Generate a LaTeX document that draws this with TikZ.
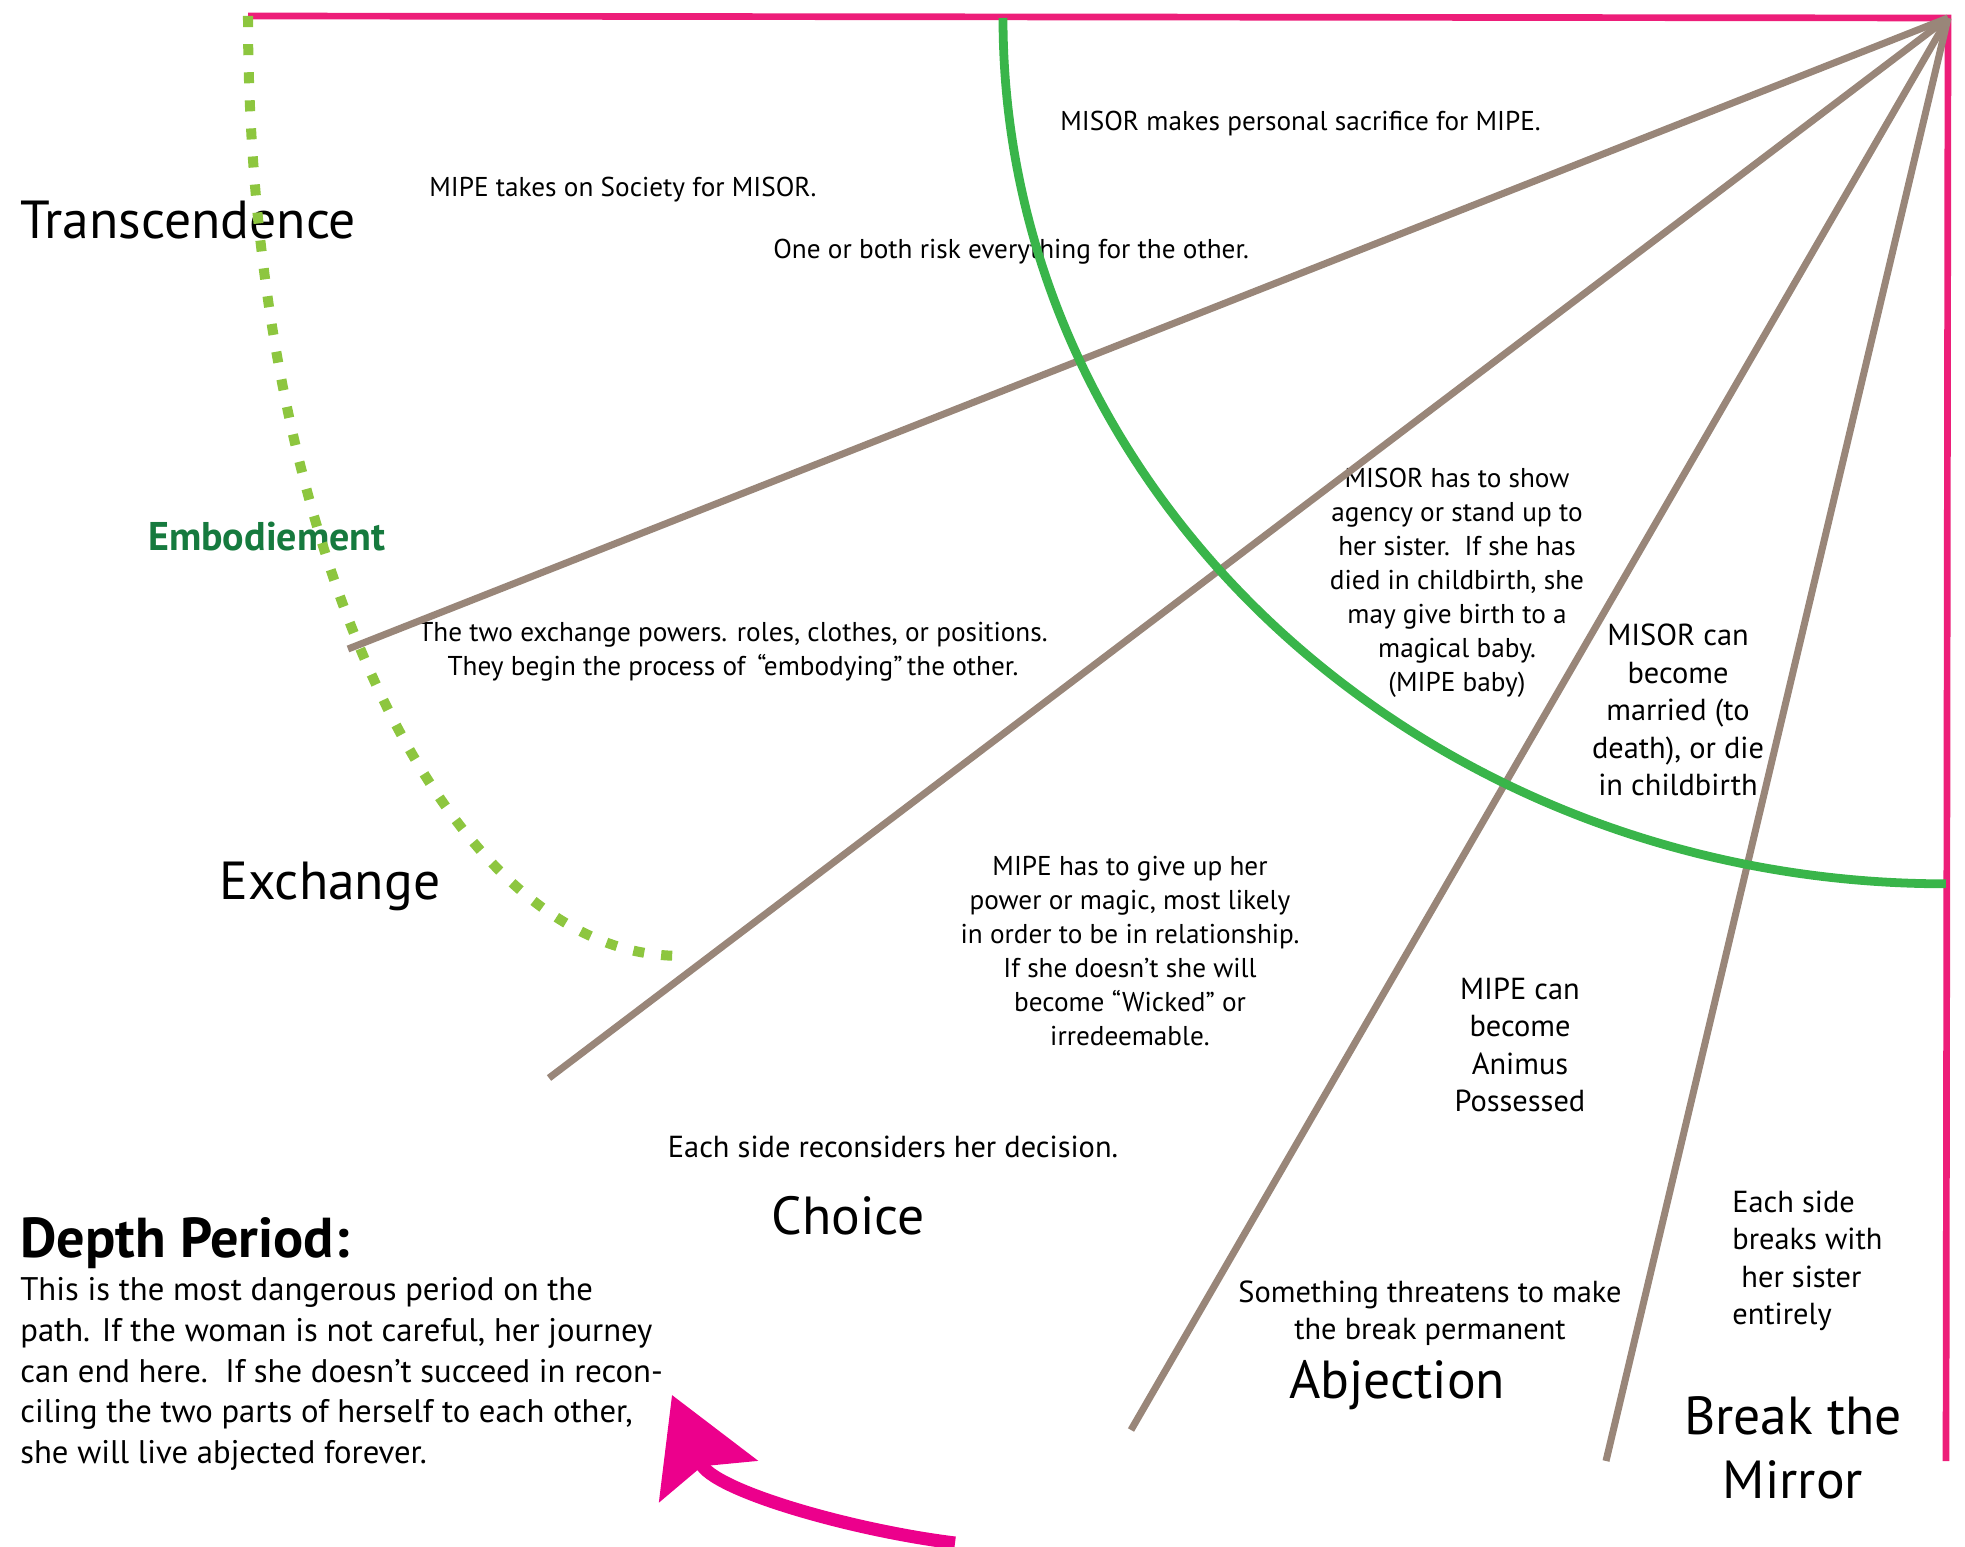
\documentclass[tikz,border=0pt]{standalone}
\usepackage{fontspec}
\setmainfont{PT Sans}
\usetikzlibrary{arrows.meta,positioning}

\definecolor{mirrorpink}{RGB}{237,30,121}
\definecolor{arrowpink}{RGB}{236,0,140}
\definecolor{spokebrown}{RGB}{153,134,121}
\definecolor{arcgreen}{RGB}{57,181,74}
\definecolor{dotgreen}{RGB}{141,198,63}
\definecolor{embgreen}{RGB}{22,122,62}

\begin{document}
\begin{tikzpicture}[x=0.02cm,y=-0.02cm,node distance=1cm,auto]
  \tikzstyle{every node}=[inner sep=0pt]
  \tikzstyle{stage}=[font=\fontsize{30.5}{36.4}\selectfont,align=center]
  \tikzstyle{note}=[font=\fontsize{15.5}{19.3}\selectfont,align=center]
  \tikzstyle{bignote}=[font=\fontsize{17.3}{21.3}\selectfont,align=center]
  \tikzstyle{spoke}=[draw=spokebrown,line width=4pt]
  \tikzstyle{mirrorline}=[draw=mirrorpink,line width=3.8pt,line join=miter]

  \useasboundingbox (0,0) rectangle (1965,1547);

  \coordinate (apex)     at (1948,18);
  \coordinate (topleft)  at (248,16);
  \coordinate (botright) at (1946,1461);
  \coordinate (e1) at (348,649);
  \coordinate (e2) at (549,1078);
  \coordinate (e3) at (1131,1430);
  \coordinate (e4) at (1606,1461);
  \coordinate (arcstart) at (1003,18);
  \coordinate (dotstart) at (248,16);
  \coordinate (tail) at (955,1543);
  \coordinate (tip)  at (672,1395);

  % texts
  \node[stage,anchor=west] (transc) at (20,220) {Transcendence};
  \node[note,anchor=west] (society)   at (429,190) {MIPE takes on Society for MISOR.};
  \node[note,anchor=west] (risk)      at (773,252) {One or both risk everything for the other.};
  \node[note,anchor=west] (sacrifice) at (1060,124) {MISOR makes personal sacrifice for MIPE.};
  \node[anchor=west,text=embgreen,font=\bfseries\fontsize{22.8}{26}\selectfont] (embod) at (148,537) {Embodiement};
  \node[note] (swap) at (733,652) {The two exchange powers. roles, clothes, or positions.\\They begin the process of \,“embodying”\,the other.};
  \node[note] (agency) at (1457,583) {MISOR has to show\\agency or stand up to\\her sister.\ \ If she has\\died in childbirth, she\\may give birth to a\\magical baby.\\(MIPE baby)};
  \node[bignote] (married) at (1678,710) {MISOR can\\become\\married (to\\death), or die\\in childbirth};
  \node[stage] (exchange) at (330,886) {Exchange};
  \node[note] (giveup) at (1130,951) {MIPE has to give up her\\power or magic, most likely\\in order to be in relationship.\\If she doesn’t she will\\become “Wicked” or\\irredeemable.};
  \node[bignote] (animus) at (1520,1045) {MIPE can\\become\\Animus\\Possessed};
  \node[bignote] (reconsider) at (893,1147) {Each side reconsiders her decision.};
  \node[stage] (choice) at (848,1216) {Choice};
  \node[bignote,align=left,anchor=west] (breaks) at (1732,1261) {Each side\\breaks with\\\hspace{0.3em}her sister\\entirely};
  \node[bignote] (threat) at (1430,1313) {Something threatens to make\\the break permanent};
  \node[stage] (abjection) at (1397,1385) {Abjection};
  \node[stage] (mirror) at (1793,1448) {Break the\\Mirror};
  \node[anchor=west,font=\bfseries\fontsize{32}{38}\selectfont] (depth) at (20,1243) {Depth Period:};
  \node[anchor=west,align=left,font=\fontsize{18.6}{23.2}\selectfont] (danger) at (20,1374)
    {This is the most dangerous period on the\\path. If the woman is not careful, her journey\\can end here.\ \ If she doesn’t succeed in recon-\\ciling the two parts of herself to each other,\\she will live abjected forever.};

  % frame, spokes and arcs
  \draw[mirrorline] (topleft) -- (apex) -- (botright);
  \path[spoke] (apex) edge (e1) edge (e2) edge (e3) edge (e4);
  \draw[arcgreen,line width=5pt] (arcstart) arc[start angle=180,end angle=270,x radius=18.86cm,y radius=17.32cm];
  \draw[dotgreen,line width=5.7pt,dash pattern=on 6.3pt off 9.7pt] (dotstart) arc[start angle=180,end angle=270,x radius=8.62cm,y radius=18.8cm];
  \draw[arrowpink,line width=7.4pt,-{Stealth[length=53pt,width=60pt,inset=9pt]}] (tail) .. controls (850,1530) and (712,1490) .. (tip);
\end{tikzpicture}
\end{document}
